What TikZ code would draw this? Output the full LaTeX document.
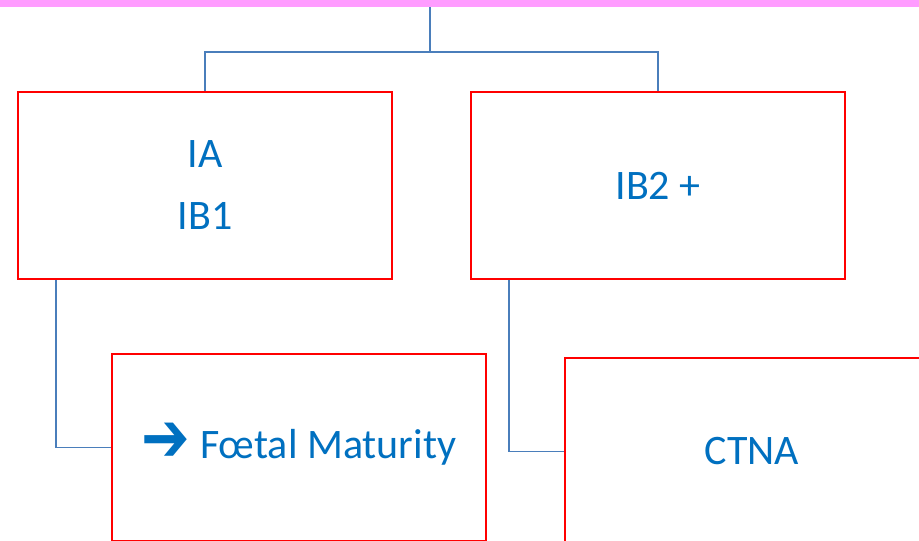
\documentclass[tikz,border=0pt]{standalone}
\usepackage{fontspec}
\setmainfont{Carlito}
\newfontfamily\symfont{DejaVu Sans}
\definecolor{txtblue}{HTML}{0070C0}
\definecolor{connblue}{HTML}{4A7EBB}
\definecolor{barpink}{HTML}{FF9CFF}
\tikzset{
  box/.style={draw=red, line width=2pt, fill=white, minimum width=374pt, minimum height=187pt,
    inner sep=0pt, text=txtblue, align=center, font=\fontsize{42}{62}\selectfont},
  conn/.style={draw=connblue, line width=1.1pt},
}
\begin{document}
\begin{tikzpicture}[x=1pt,y=-1pt]
  \useasboundingbox (0,0) rectangle (919,541);
  \clip (0,0) rectangle (919,541);
  \fill[white] (0,0) rectangle (919,541);
  % top banner
  \node[fill=barpink, minimum width=919pt, minimum height=7pt, inner sep=0pt, anchor=north west] (bar) at (0,0) {};
  % boxes
  \node[box] (b1) at (205,185.5) {IA\\IB1};
  \node[box] (b2) at (658,185.5) {IB2 +};
  \node[box] (b3) at (299,447.5) {\smash{\raisebox{-3pt}{\symfont\fontsize{58}{58}\selectfont\scalebox{1}[1.2]{➔}}}\hspace{10pt}Fœtal Maturity};
  \node[box] (b4) at (752,451.5) {CTNA};
  % connectors
  \coordinate (hub) at (430,52);
  \draw[conn] (hub) -- (hub |- bar.south);
  \draw[conn] (b1.north) |- (hub) -| (b2.north);
  \draw[conn] ([xshift=-149pt]b1.south) |- (b3.west);
  \draw[conn] ([xshift=-149pt]b2.south) |- (b4.west);
\end{tikzpicture}
\end{document}
